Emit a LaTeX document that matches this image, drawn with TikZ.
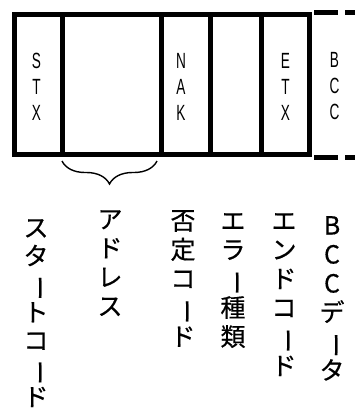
\documentclass[tikz,border=0pt]{standalone}
\usepackage{graphicx}
\usepackage{fontspec}
\setmainfont{Liberation Sans}
\newfontfamily\jpfont[FakeBold=0.5]{Noto Sans CJK JP}
\newfontfamily\narrowfont[FakeStretch=0.62]{Liberation Sans}
\usetikzlibrary{decorations.pathreplacing}
\newcommand{\nobashi}{\rotatebox[origin=c]{-90}{ー}}

\begin{document}
\begin{tikzpicture}[x=1pt, y=-1pt,
  cell/.style={draw, line width=5pt, inner sep=0pt, minimum height=140pt, anchor=north west},
  code/.style={font=\narrowfont\fontsize{22}{26}\selectfont, align=center, inner sep=0pt},
  tate/.style={font=\jpfont\fontsize{25}{29}\selectfont, align=center, anchor=north, inner sep=0pt},
]
\useasboundingbox (0,0) rectangle (355,413);
% frame cells
\node[cell, minimum width=48pt] (stx) at (12,12) {};
\node[cell, minimum width=99pt] (adr) at (60,12) {};
\node[cell, minimum width=49pt] (nak) at (159,12) {};
\node[cell, minimum width=51pt] (err) at (208,12) {};
\node[cell, minimum width=48pt] (etx) at (259,12) {};
\node[cell, draw=none, minimum width=44pt] (bcc) at (307,12) {};
% dashed BCC cell
\draw[line width=5pt, dash pattern=on 24pt off 7pt, dash phase=24pt]
  (bcc.north west) -- ([xshift=4pt]bcc.north east);
\draw[line width=5pt, dash pattern=on 24pt off 7pt, dash phase=24pt]
  (bcc.south west) -- ([xshift=4pt]bcc.south east);
\draw[line width=1.5pt, dash pattern=on 20pt off 8pt]
  (bcc.north east) -- (bcc.south east);
% codes in the cells
\node[code] (stxt) at ([xshift=-2pt,yshift=-2pt]stx.center) {S\\T\\X};
\node[code] (nakt) at ([xshift=-5pt,yshift=-2pt]nak.center) {N\\A\\K};
\node[code] (etxt) at ([yshift=-2pt]etx.center) {E\\T\\X};
\node[code] (bcct) at ([xshift=3pt,yshift=-2pt]bcc.center) {B\\C\\C};
% brace under the address
\draw[decorate, decoration={brace, mirror, amplitude=23pt}, line width=1.4pt]
  ([xshift=2pt,yshift=-4pt]adr.south west) -- ([xshift=-7pt,yshift=-4pt]adr.south east);
% vertical labels
\node[tate, font=\jpfont\fontsize{25}{28.2}\selectfont] (l1) at (36,219) {ス\\タ\\\nobashi\\ト\\コ\\\nobashi\\ド};
\node[tate] (l2) at (110,210) {ア\\ド\\レ\\ス};
\node[tate] (l3) at (183,210) {否\\定\\コ\\\nobashi\\ド};
\node[tate] (l4) at (233,213) {エ\\ラ\\\nobashi\\種\\類};
\node[tate] (l5) at (284,213) {エ\\ン\\ド\\コ\\\nobashi\\ド};
\node[tate] (l6) at (332,216) {B\\C\\C\\デ\\\nobashi\\タ};
\end{tikzpicture}
\end{document}
